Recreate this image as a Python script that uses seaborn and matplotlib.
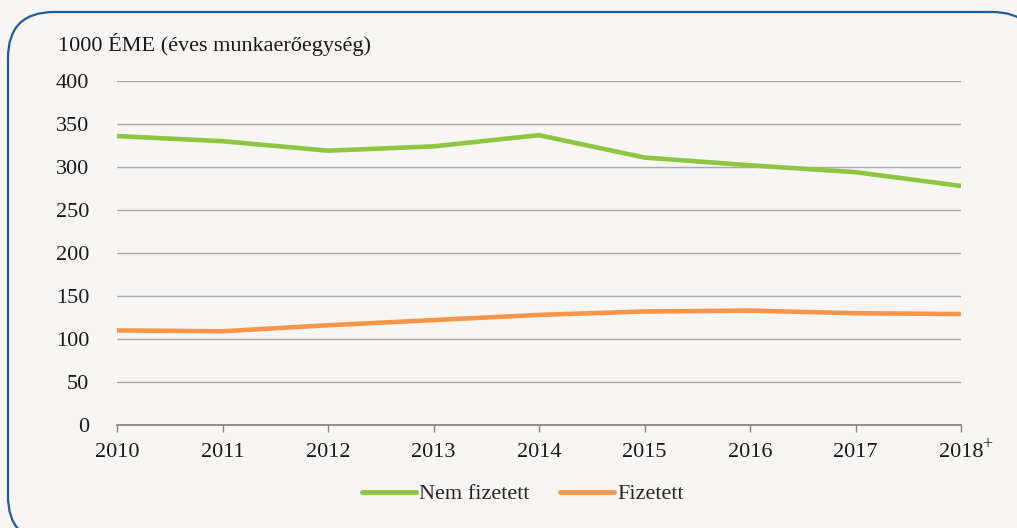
"""Nem fizetett és fizetett munkaerő, 2010-2018."""

import matplotlib
matplotlib.use("Agg")
import matplotlib.pyplot as plt
import pandas as pd
import seaborn as sns
from matplotlib.patches import FancyBboxPatch
from matplotlib.transforms import IdentityTransform

YEARS = ["2010", "2011", "2012", "2013", "2014", "2015", "2016", "2017", "2018"]
NEM_FIZETETT = [336, 330, 319, 324, 337, 311, 302, 294, 278]
FIZETETT = [110, 109, 116, 122, 128, 132, 133, 130, 129]

BG = "#F7F6F4"
GREEN = "#8DC63F"
ORANGE = "#F7964A"


def main() -> None:
    sns.set_theme(style="white")
    plt.rcParams["font.family"] = ["Liberation Serif", "DejaVu Serif"]

    df = pd.DataFrame({
        "year": YEARS * 2,
        "value": NEM_FIZETETT + FIZETETT,
        "series": ["Nem fizetett"] * len(YEARS) + ["Fizetett"] * len(YEARS),
    })

    fig = plt.figure(figsize=(10.17, 5.28), dpi=100, facecolor=BG)
    box = FancyBboxPatch((8, -14), 1030, 530, boxstyle="round,pad=0,rounding_size=46",
                         transform=IdentityTransform(), facecolor=BG,
                         edgecolor="#1F5C99", linewidth=1.6, zorder=-5)
    fig.patches.append(box)

    ax = fig.add_axes([117 / 1017, 103 / 528, 844 / 1017, 344 / 528])
    ax.set_zorder(2)
    ax.set_facecolor("none")
    sns.lineplot(data=df, x="year", y="value", hue="series",
                 palette={"Nem fizetett": GREEN, "Fizetett": ORANGE},
                 linewidth=3.3, ax=ax, legend=False, sort=False)

    ax.set_xlim(0, len(YEARS) - 1)
    ax.set_ylim(0, 400)
    ax.set_yticks(range(0, 401, 50))
    ax.set_xticks(range(len(YEARS)))
    ax.set_xticklabels(YEARS)
    ax.yaxis.grid(True, color="#A9A9AD", linewidth=1)
    ax.set_axisbelow(True)
    for side in ["top", "right", "left"]:
        ax.spines[side].set_visible(False)
    ax.spines["bottom"].set_color("#868686")
    ax.spines["bottom"].set_linewidth(1.3)
    ax.spines["bottom"].set_zorder(1)
    ax.tick_params(axis="x", bottom=True, length=5, width=1, color="#868686",
                   pad=8, labelsize=16, labelcolor="#1a1a1a")
    ax.tick_params(axis="y", left=False, pad=14, labelsize=16, labelcolor="#1a1a1a")
    ax.set_xlabel("")
    ax.set_ylabel("")

    # "+" jel a 2018-as címke mellett
    ax.annotate("+", xy=(len(YEARS) - 1, 0), xycoords=("data", "axes fraction"),
                xytext=(15.5, -14), textcoords="offset points", fontsize=13,
                color="#1a1a1a", ha="left", va="center", annotation_clip=False)

    fig.text(58 / 1017, 1 - 45 / 528, "1000 ÉME (éves munkaerőegység)",
             fontsize=16, color="#1a1a1a", va="center", ha="left")

    handles = [plt.Line2D([], [], color=GREEN, linewidth=3.5),
               plt.Line2D([], [], color=ORANGE, linewidth=3.5)]
    fig.legend(handles, ["Nem fizetett", "Fizetett"], loc="center",
               bbox_to_anchor=(523 / 1017, 1 - 494 / 528), ncol=2, frameon=False,
               fontsize=16, handlelength=2.4, handletextpad=0.15, columnspacing=1.4)

    fig.savefig("out.png", dpi=100, facecolor=BG)
    plt.close(fig)


if __name__ == "__main__":
    main()
